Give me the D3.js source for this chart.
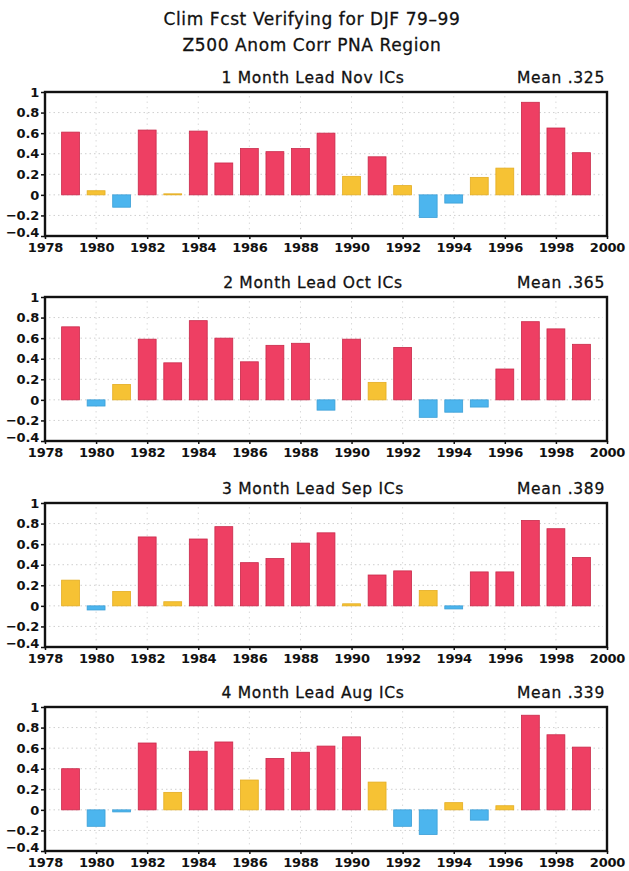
<!DOCTYPE html>
<html>
<head>
<meta charset="utf-8">
<script src="https://cdn.jsdelivr.net/npm/d3@7"></script>
<style>
  html, body { margin: 0; padding: 0; background: #fff; }
  svg { display: block; }
  text { font-family: "DejaVu Sans", "Liberation Sans", Arial, sans-serif; fill: #111; }
</style>
</head>
<body>
<svg id="chart" width="629" height="871"></svg>
<script>
// Winter (DJF) seasons 1979-1999
const years = d3.range(1979, 2000);

// Anomaly correlation of Z500 over the PNA region, one series per lead
const leadNov = [0.61, 0.04, -0.12, 0.63, 0.01, 0.62, 0.31, 0.45, 0.42, 0.45, 0.60,
                 0.18, 0.37, 0.09, -0.22, -0.08, 0.17, 0.26, 0.90, 0.65, 0.41];
const leadOct = [0.71, -0.06, 0.15, 0.59, 0.36, 0.77, 0.60, 0.37, 0.53, 0.55, -0.10,
                 0.59, 0.17, 0.51, -0.17, -0.12, -0.07, 0.30, 0.76, 0.69, 0.54];
const leadSep = [0.25, -0.04, 0.14, 0.67, 0.04, 0.65, 0.77, 0.42, 0.46, 0.61, 0.71,
                 0.02, 0.30, 0.34, 0.15, -0.03, 0.33, 0.33, 0.83, 0.75, 0.47];
const leadAug = [0.40, -0.16, -0.02, 0.65, 0.17, 0.57, 0.66, 0.29, 0.50, 0.56, 0.62,
                 0.71, 0.27, -0.16, -0.24, 0.07, -0.10, 0.04, 0.92, 0.73, 0.61];

const panelTitles = ["1 Month Lead Nov ICs", "2 Month Lead Oct ICs",
                     "3 Month Lead Sep ICs", "4 Month Lead Aug ICs"];
const meanLabels = ["Mean .325", "Mean .365", "Mean .389", "Mean .339"];
const seriesList = [leadNov, leadOct, leadSep, leadAug];

const titleLines = ["Clim Fcst Verifying for DJF 79\u201399", "Z500 Anom Corr PNA Region"];
const yTicks = [-0.4, -0.2, 0, 0.2, 0.4, 0.6, 0.8, 1];
const xTicks = d3.range(1978, 2001, 2);

const svg = d3.select("#chart");

// Layout of the four stacked panels
const left = 45, right = 607, plotH = 144;
const tops = [92, 297, 503, 707];

const x = d3.scaleLinear().domain([1978, 2000]).range([left, right]);
const barW = (x(1979) - x(1978)) * 0.7;

function barColor(v) {
  if (v < 0) return { fill: "#4cb5ee", stroke: "#3b9fd6" };
  if (v < 0.3) return { fill: "#f6c234", stroke: "#e4ad22" };
  return { fill: "#ee3f63", stroke: "#c92a4a" };
}

function fmtY(v) {
  if (v === 0) return "0";
  if (v === 1) return "1";
  return d3.format(".1f")(v).replace("-", "\u2212");
}

// Main title
svg.selectAll("text.main")
  .data(titleLines)
  .join("text")
  .attr("class", "main")
  .attr("x", 312)
  .attr("y", (d, i) => 25 + i * 26)
  .attr("text-anchor", "middle")
  .attr("font-size", 17)
  .attr("letter-spacing", 0.6)
  .attr("stroke", "#111").attr("stroke-width", 0.3)
  .text(d => d);

seriesList.forEach((values, p) => {
  const top = tops[p];
  const y = d3.scaleLinear().domain([-0.4, 1]).range([top + plotH, top]);
  const g = svg.append("g");

  // dotted grid
  g.selectAll("line.hgrid")
    .data(yTicks.slice(1, -1))
    .join("line")
    .attr("x1", left + 4).attr("x2", right - 4)
    .attr("y1", d => y(d)).attr("y2", d => y(d))
    .attr("stroke", "#cfcfcf").attr("stroke-width", 1)
    .attr("stroke-dasharray", "1.5,3");
  g.selectAll("line.vgrid")
    .data(xTicks.slice(1, -1))
    .join("line")
    .attr("x1", d => x(d)).attr("x2", d => x(d))
    .attr("y1", top + 4).attr("y2", top + plotH - 4)
    .attr("stroke", "#dadada").attr("stroke-width", 1)
    .attr("stroke-dasharray", "1.5,4");

  // bars
  g.selectAll("rect.bar")
    .data(values.map((v, i) => ({ year: years[i], v })))
    .join("rect")
    .attr("class", "bar")
    .attr("x", d => x(d.year) - barW / 2)
    .attr("width", barW)
    .attr("y", d => y(Math.max(0, d.v)))
    .attr("height", d => Math.max(1, Math.abs(y(d.v) - y(0))))
    .attr("fill", d => barColor(d.v).fill)
    .attr("stroke", d => barColor(d.v).stroke)
    .attr("stroke-width", 0.8);

  // axes
  const yAxis = d3.axisLeft(y).tickValues(yTicks).tickSize(4).tickPadding(2).tickFormat(fmtY);
  const xAxis = d3.axisBottom(x).tickValues(xTicks).tickSize(3).tickPadding(4).tickFormat(d3.format("d"));

  const ya = g.append("g").attr("transform", `translate(${left},0)`).call(yAxis);
  const xa = g.append("g").attr("transform", `translate(0,${top + plotH})`).call(xAxis);
  [ya, xa].forEach(a => {
    a.select(".domain").remove();
    a.selectAll(".tick line").attr("stroke", "#111").attr("stroke-width", 1.5);
    a.selectAll(".tick text")
      .attr("font-family", "Liberation Sans, Arial, sans-serif")
      .attr("font-weight", "bold")
      .attr("font-size", 13)
      .attr("letter-spacing", -0.2)
      .attr("fill", "#111");
  });
  // lift the lowest y label a little so it clears the first year label
  ya.selectAll(".tick text").filter(d => d === -0.4).attr("dy", "0.05em");

  // frame
  g.append("rect")
    .attr("x", left).attr("y", top)
    .attr("width", right - left).attr("height", plotH)
    .attr("fill", "none").attr("stroke", "#111").attr("stroke-width", 2.4);

  // panel title and mean
  g.append("text")
    .attr("x", 313).attr("y", top - 9)
    .attr("text-anchor", "middle")
    .attr("font-size", 15.5)
    .attr("letter-spacing", 0.7)
    .attr("stroke", "#111").attr("stroke-width", 0.3)
    .text(panelTitles[p]);
  g.append("text")
    .attr("x", 605).attr("y", top - 9)
    .attr("text-anchor", "end")
    .attr("font-size", 15.5)
    .attr("letter-spacing", 0.7)
    .attr("stroke", "#111").attr("stroke-width", 0.3)
    .text(meanLabels[p]);
});
</script>
</body>
</html>
